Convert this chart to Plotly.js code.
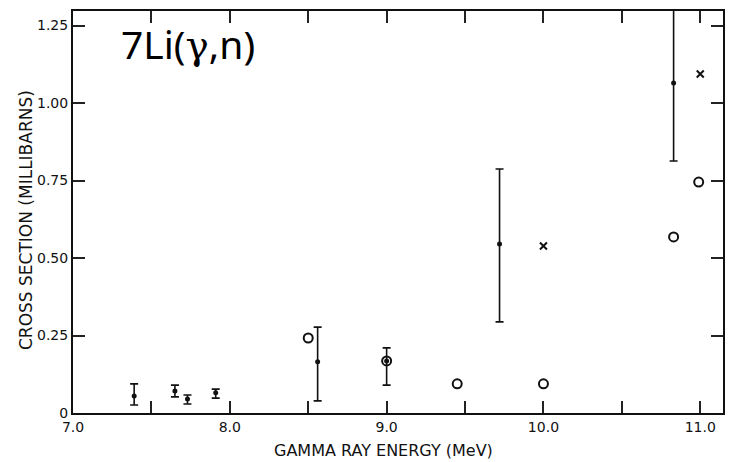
<!DOCTYPE html>
<html>
<head>
<meta charset="utf-8">
<script src="https://cdn.plot.ly/plotly-3.0.1.min.js"></script>
<style>
  html, body { margin: 0; padding: 0; background: #ffffff; }
  #chart { width: 740px; height: 462px; }
</style>
</head>
<body>
<div id="chart"></div>
<script>
// 7Li(gamma,n) cross section vs. gamma ray energy

// Measured points with error bars (filled dots)
const dotEnergy   = [7.39, 7.65, 7.73, 7.91, 8.56, 9.00, 9.72, 10.83];
const dotSigma    = [0.055, 0.071, 0.045, 0.065, 0.165, 0.168, 0.545, 1.065];
const dotErrPlus  = [0.039, 0.019, 0.013, 0.012, 0.112, 0.042, 0.242, 0.248];
const dotErrMinus = [0.029, 0.019, 0.016, 0.017, 0.126, 0.078, 0.251, 0.252];

// Open circles
const circleEnergy = [8.50, 9.00, 9.45, 10.00, 10.83, 10.99];
const circleSigma  = [0.242, 0.168, 0.094, 0.094, 0.568, 0.745];

// Crosses
const crossEnergy = [10.00, 11.00];
const crossSigma  = [0.539, 1.094];

// Axis ticks
const xTickVals = [7.0, 7.5, 8.0, 8.5, 9.0, 9.5, 10.0, 10.5, 11.0];
const xTickText = ["7.0", "", "8.0", "", "9.0", "", "10.0", "", "11.0"];
const yTickVals = [0, 0.25, 0.5, 0.75, 1.0, 1.25];
const yTickText = ["0", "0.25", "0.50", "0.75", "1.00", "1.25"];

const ink = "#111111";
const tickFont = { family: "DejaVu Sans, sans-serif", size: 14, color: ink };

const traces = [
  {
    type: "scatter", mode: "markers",
    x: dotEnergy, y: dotSigma,
    marker: { symbol: "circle", size: 5, color: ink },
    error_y: {
      type: "data", symmetric: false,
      array: dotErrPlus, arrayminus: dotErrMinus,
      color: ink, thickness: 1.6, width: 4
    },
    cliponaxis: false,
    showlegend: false
  },
  {
    type: "scatter", mode: "markers",
    x: circleEnergy, y: circleSigma,
    marker: { symbol: "circle-open", size: 9, color: ink, line: { width: 2, color: ink } },
    cliponaxis: false,
    showlegend: false
  },
  {
    type: "scatter", mode: "markers",
    x: crossEnergy, y: crossSigma,
    marker: { symbol: "x-thin-open", size: 7, color: ink, line: { width: 2, color: ink } },
    cliponaxis: false,
    showlegend: false
  }
];

const layout = {
  width: 740, height: 462,
  margin: { l: 73, r: 17, t: 11, b: 49 },
  paper_bgcolor: "#ffffff",
  plot_bgcolor: "#ffffff",
  showlegend: false,
  xaxis: {
    range: [7.0, 11.145],
    tickmode: "array", tickvals: xTickVals, ticktext: xTickText,
    ticks: "inside", ticklen: 12, tickwidth: 2, tickcolor: "#222222",
    showline: true, linewidth: 2, linecolor: ink, mirror: "allticks",
    showgrid: false, zeroline: false,
    tickfont: tickFont
  },
  yaxis: {
    range: [0, 1.297],
    tickmode: "array", tickvals: yTickVals, ticktext: yTickText,
    ticks: "inside", ticklen: 12, tickwidth: 2, tickcolor: "#222222",
    showline: true, linewidth: 2, linecolor: ink, mirror: "allticks",
    showgrid: false, zeroline: false,
    tickfont: tickFont
  },
  annotations: [
    {
      // reaction label
      xref: "paper", yref: "paper",
      x: (119 - 73) / 650, y: 0.918,
      xanchor: "left", yanchor: "middle",
      text: "7Li(<span style=\"font-family:DejaVu Serif\">γ</span>,n)",
      showarrow: false,
      font: { family: "Noto Sans, sans-serif", size: 39, color: "#000000" }
    },
    {
      // x axis title
      xref: "paper", yref: "paper",
      x: (383 - 73) / 650, y: -(450 - 413) / 402,
      xanchor: "center", yanchor: "middle",
      text: "GAMMA RAY ENERGY (MeV)",
      showarrow: false,
      font: { family: "DejaVu Sans, sans-serif", size: 16, color: ink }
    },
    {
      // y axis title
      xref: "paper", yref: "paper",
      x: -(73 - 26) / 650, y: (413 - 220) / 402,
      xanchor: "center", yanchor: "middle",
      textangle: -90,
      text: "CROSS SECTION (MILLIBARNS)",
      showarrow: false,
      font: { family: "DejaVu Sans, sans-serif", size: 17, color: ink }
    }
  ]
};

Plotly.newPlot("chart", traces, layout, { displayModeBar: false, staticPlot: true });
</script>
</body>
</html>
